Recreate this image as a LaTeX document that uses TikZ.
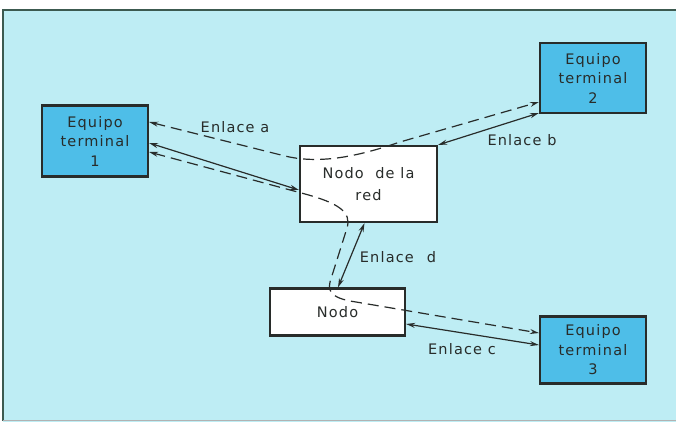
\documentclass[tikz,border=0pt]{standalone}
\usepackage{fontspec}
\setmainfont{DejaVu Sans}[LetterSpace=8]
\usetikzlibrary{arrows.meta}
\definecolor{bgcyan}{RGB}{190,237,244}
\definecolor{boxblue}{RGB}{78,190,232}
\definecolor{ink}{RGB}{40,44,42}
\definecolor{framec}{RGB}{60,90,80}
\tikzset{
  termbox/.style={draw=ink, line width=2.2pt, fill=boxblue, align=center, inner sep=0pt, text=ink, font=\fontsize{14.5}{19.5}\selectfont},
  nodebox/.style={draw=ink, line width=2.2pt, fill=white, align=center, inner sep=0pt, text=ink, font=\fontsize{14.5}{22}\selectfont},
  link/.style={draw=ink, line width=1.2pt, {Stealth[length=9pt,width=5pt]}-{Stealth[length=9pt,width=5pt]}},
  dlink/.style={draw=ink, line width=1.2pt, dash pattern=on 11pt off 6pt},
  lbl/.style={text=ink, font=\fontsize{14.5}{16}\selectfont, inner sep=0pt},
}
\begin{document}
\begin{tikzpicture}[x=1pt,y=-1pt]
\useasboundingbox (0,0) rectangle (676,422);
\fill[white] (0,0) rectangle (676,422);
\fill[bgcyan] (3,10) rectangle (676,422);
\draw[framec, line width=1.5pt] (3,421) -- (3,10) -- (676,10);
\draw[gray!60, line width=1pt] (3,420.5) -- (676,420.5);

% boxes
\node[termbox, minimum width=106pt, minimum height=71pt] (et1) at (95,141) {Equipo\\terminal\\1};
\node[termbox, minimum width=106pt, minimum height=70pt] (et2) at (593,78) {Equipo\\terminal\\2};
\node[termbox, minimum width=106pt, minimum height=67pt] (et3) at (593,350) {Equipo\\terminal\\3};
\node[nodebox, minimum width=137pt, minimum height=76pt] (red) at (368.5,184) {Nodo\hspace{0.4em} de la\\red};
\node[nodebox, minimum width=135pt, minimum height=47pt] (nodo) at (337.5,312) {Nodo};

% anchor coordinates
\coordinate (a1) at ([yshift=19pt]et1.east);
\coordinate (a2) at ([yshift=-2pt]et1.east);
\coordinate (a3) at ([yshift=-11pt]et1.east);
\coordinate (b1) at ([yshift=-24pt]et2.west);
\coordinate (b2) at ([yshift=-35pt]et2.west);
\coordinate (c1) at ([yshift=17pt]et3.west);
\coordinate (c2) at ([yshift=5pt]et3.west);
\coordinate (r1) at ([yshift=-6pt]red.west);
\coordinate (n1) at ([yshift=-12pt]nodo.east);

% solid links
\draw[link] (a2) -- (r1);
\draw[link] (red.north east) -- (b2);
\draw[link] ([xshift=-4pt]red.south) -- ([xshift=0.5pt]nodo.north);
\draw[link] (n1) -- (c2);

% dashed links
\draw[dlink, {Stealth[length=9pt,width=5pt]}-{Stealth[length=9pt,width=5pt]}]
  (a1) -- (285,156) .. controls (322,165) and (362,155) .. (400,142) -- (b1);
\draw[dlink, {Stealth[length=9pt,width=5pt]}-{Stealth[length=9pt,width=5pt]}]
  (a3) -- (305,194) .. controls (338,203) and (352,212) .. (347,228)
  -- (330,282) .. controls (327,294) and (336,299) .. (356,302) -- (c1);

% labels
\node[lbl] (la) at (235,127) {Enlace a};
\node[lbl] (lb) at (522,140) {Enlace b};
\node[lbl] (lc) at (462,349) {Enlace c};
\node[lbl] (ld) at (398,257) {Enlace\hspace{0.5em} d};
\end{tikzpicture}
\end{document}
